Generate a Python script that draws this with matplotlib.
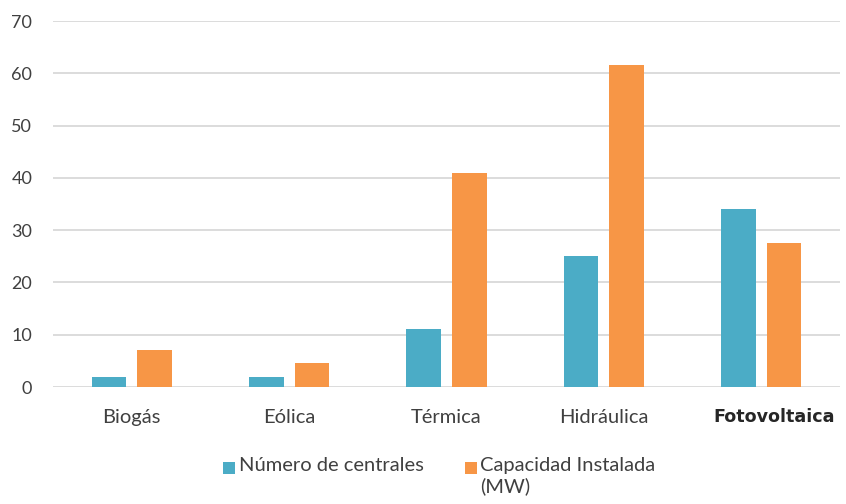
import matplotlib.pyplot as plt
import matplotlib.transforms as mtransforms
import numpy as np
from matplotlib.patches import Rectangle

categories = ["Biogás", "Eólica", "Térmica", "Hidráulica", "Fotovoltaica"]
num_centrales = [2, 2, 11, 25, 34]
capacidad_mw = [7, 4.5, 41, 61.5, 27.5]
y_ticks = [0, 10, 20, 30, 40, 50, 60, 70]
series_names = ["Número de centrales", "Capacidad Instalada\n(MW)"]

blue = "#4bacc6"
orange = "#f79646"
grid = "#d9d9d9"
text_col = "#404040"

plt.rcParams["font.family"] = ["Lato", "DejaVu Sans"]

W, H = 846, 504
fig = plt.figure(figsize=(W / 100, H / 100), dpi=100)
ax = fig.add_axes([53 / W, 1 - 387 / H, 787 / W, 366 / H])

x = np.arange(len(categories))
w = 0.22
off = 0.145
ax.bar(x - off, num_centrales, width=w, color=blue, zorder=3)
ax.bar(x + off, capacidad_mw, width=w, color=orange, zorder=3)

ax.set_xlim(-0.5, len(categories) - 0.5)
ax.set_ylim(0, 70)
ax.set_yticks(y_ticks)
ax.set_yticklabels([str(v) for v in y_ticks], fontsize=13, color=text_col)
ax.yaxis.grid(True, color=grid, linewidth=1.3, zorder=0)
ax.tick_params(axis="both", length=0)
ax.tick_params(axis="y", pad=15)
ax.tick_params(axis="x", pad=16)
for s in ax.spines.values():
    s.set_visible(False)

ax.set_xticks(x)
ax.set_xticklabels(categories, fontsize=14.5, color=text_col)

# last category label is set in a heavier face and nudged right
shift = mtransforms.ScaledTranslation(13 / 100, 1 / 100, fig.dpi_scale_trans)
for tick in ax.xaxis.get_major_ticks()[-1:]:
    lbl = tick.label1
    lbl.set_fontfamily(["DejaVu Sans"])
    lbl.set_fontweight("bold")
    lbl.set_color("#262626")
    lbl.set_fontsize(12.6)
    lbl.set_transform(lbl.get_transform() + shift)


def fx(px):
    return px / W


def fy(py):
    return 1 - py / H


# legend drawn in figure coordinates
sq = 12
for (sx, tx), col, name in zip([(223, 239), (465, 480)], [blue, orange], series_names):
    fig.add_artist(Rectangle((fx(sx), fy(468 + sq / 2)), sq / W, sq / H,
                             transform=fig.transFigure, color=col, lw=0))
    fig.text(fx(tx), fy(457), name, fontsize=14.5, color=text_col,
             ha="left", va="top", linespacing=1.2)

fig.savefig("out.png", dpi=100, facecolor="white")
